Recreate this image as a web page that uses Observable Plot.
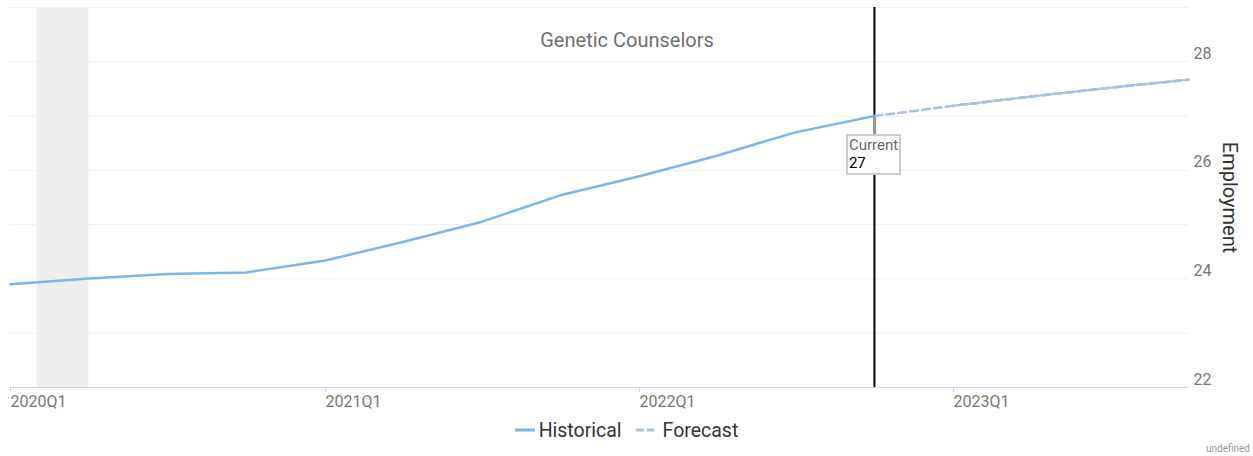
<!DOCTYPE html>
<html>
<head>
<meta charset="utf-8">
<script src="https://cdn.jsdelivr.net/npm/d3@7"></script>
<script src="https://cdn.jsdelivr.net/npm/@observablehq/plot@0.6"></script>
<style>
  html, body { margin: 0; padding: 0; background: #fff; }
  #wrap { position: relative; width: 1253px; height: 456px; font-family: Roboto, sans-serif; }
  #legend { position: absolute; left: 0; top: 415px; width: 1253px; height: 30px; display: flex; justify-content: center; align-items: center; font-family: Roboto, sans-serif; font-size: 19.5px; color: #333; }
  #legend .item { display: flex; align-items: center; }
  #legend svg { margin-right: 4px; }
  #undef { position: absolute; right: 3px; top: 443px; font-size: 10px; color: #999; font-family: Roboto, sans-serif; }
  #tip { position: absolute; box-sizing: border-box; width: 55px; height: 41px; border: 2px solid #cccccc; background: #fff; padding: 0 0 0 1px; font-size: 15px; line-height: 18px; }
  #tip .a { color: #666; }
  #tip .b { color: #000; }
  #conn { position: absolute; width: 2px; background: #999; }
</style>
</head>
<body>
<div id="wrap">
  <div id="chart"></div>
  <div id="legend">
    <div class="item"><svg width="20" height="4"><line x1="0" y1="2" x2="20" y2="2" stroke="#7cb5ec" stroke-width="3"/></svg><span>Historical</span></div>
    <div class="item" style="margin-left:14px"><svg width="20" height="4"><line x1="0" y1="2" x2="18" y2="2" stroke="#a9c1de" stroke-width="3" stroke-dasharray="8,3"/></svg><span style="margin-left:3px">Forecast</span></div>
  </div>
  <div id="undef">undefined</div>
</div>
<script>
const title = "Genetic Counselors";
const yLabel = "Employment";
const histQuarters = ["2020Q1","2020Q2","2020Q3","2020Q4","2021Q1","2021Q2","2021Q3","2021Q4","2022Q1","2022Q2","2022Q3","2022Q4"];
const histValues   = [23.90, 24.01, 24.09, 24.12, 24.34, 24.68, 25.05, 25.54, 25.89, 26.27, 26.70, 27.00];
const fcQuarters = ["2022Q4","2023Q1","2023Q2","2023Q3","2023Q4"];
const fcValues   = [27.00, 27.19, 27.36, 27.52, 27.67];
const xDomainQuarters = ["2020Q1","2023Q4"];
const xTickQuarters = ["2020Q1","2021Q1","2022Q1","2023Q1"];
const yDomain = [22, 29];
const yTicks = [22, 24, 26, 28];
const yGrid = [23, 24, 25, 26, 27, 28, 29];
const recession = [{start: "2020-02-01", end: "2020-04-01"}];
const currentQuarter = "2022Q4";
const currentValue = 27;
const currentLabel = "Current";

const q2d = s => new Date(Date.UTC(+s.slice(0,4), (+s.slice(5) - 1) * 3, 1));
const fmtQ = d => `${d.getUTCFullYear()}Q${Math.floor(d.getUTCMonth()/3) + 1}`;

const hist = histQuarters.map((q, i) => ({date: q2d(q), value: histValues[i]}));
const fc = fcQuarters.map((q, i) => ({date: q2d(q), value: fcValues[i]}));
const band = recession.map(r => ({start: new Date(r.start + "T00:00:00Z"), end: new Date(r.end + "T00:00:00Z")}));
const curDate = q2d(currentQuarter);

const plot = Plot.plot({
  width: 1253,
  height: 415,
  marginLeft: 10,
  marginRight: 65,
  marginTop: 7,
  marginBottom: 28,
  style: {fontFamily: "Roboto, sans-serif", background: "white", overflow: "visible"},
  x: {type: "utc", domain: xDomainQuarters.map(q2d)},
  y: {domain: yDomain},
  marks: [
    Plot.rect(band, {x1: "start", x2: "end", fill: "#eeeeee"}),
    Plot.ruleY(yGrid, {stroke: "#f0f0f0", strokeWidth: 1}),
    Plot.ruleY([yDomain[0]], {stroke: "#ccd6eb", strokeWidth: 1}),
    Plot.axisX({ticks: xTickQuarters.map(q2d), tickFormat: fmtQ, tickSize: 5, tickPadding: 3, stroke: "#ccd6eb", fill: "#777", fontSize: 16, textAnchor: "start", dx: 0, label: null}),
    Plot.axisY({anchor: "right", ticks: yTicks, tickFormat: d3.format("d"), tickSize: 0, tickPadding: 5, fill: "#777", fontSize: 16, dy: -8, label: null}),
    Plot.ruleX([curDate], {stroke: "black", strokeWidth: 2}),
    Plot.line(fc, {x: "date", y: "value", stroke: "#a9c1de", strokeWidth: 2.5, strokeDasharray: "8,4"}),
    Plot.line(fc.slice(1), {x: "date", y: "value", stroke: "#a9c1de", strokeWidth: 2.5, strokeDasharray: "8,4", strokeDashoffset: 6}),
    Plot.line(hist, {x: "date", y: "value", stroke: "#7cb5ec", strokeWidth: 2.5}),
    Plot.text([title], {frameAnchor: "top", lineAnchor: "middle", textAnchor: "middle", dx: 27.5, dy: 33, fontSize: 20, fill: "#707070"}),
    Plot.text([yLabel], {frameAnchor: "right", textAnchor: "middle", lineAnchor: "middle", rotate: 90, dx: 41, fontSize: 20, fill: "#333"})
  ]
});
document.getElementById("chart").appendChild(plot);

const xs = plot.scale("x"), ys = plot.scale("y");
const px = xs.apply(curDate), py = ys.apply(currentValue);
const conn = document.createElement("div");
conn.id = "conn";
conn.style.left = (px - 1) + "px";
conn.style.top = py + "px";
conn.style.height = "18px";
document.getElementById("wrap").appendChild(conn);
const tip = document.createElement("div");
tip.id = "tip";
tip.style.left = (px - 28) + "px";
tip.style.top = (py + 18) + "px";
tip.innerHTML = `<div class="a">${currentLabel}</div><div class="b">${currentValue}</div>`;
document.getElementById("wrap").appendChild(tip);
</script>
</body>
</html>
